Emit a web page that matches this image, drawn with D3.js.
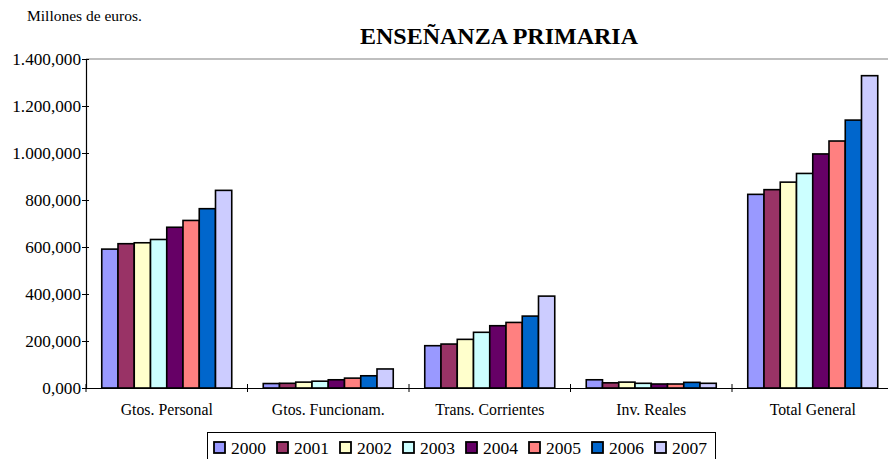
<!DOCTYPE html>
<html><head><meta charset="utf-8">
<script src="https://cdn.jsdelivr.net/npm/d3@7/dist/d3.min.js"></script>
<style>body{margin:0;background:#fff;overflow:hidden;}svg text{font-family:"Liberation Serif","Times New Roman",serif !important;}</style>
</head><body>
<svg id="c" width="888" height="459"></svg>
<script>
const categories = ["Gtos. Personal","Gtos. Funcionam.","Trans. Corrientes","Inv. Reales","Total General"];
const years = ["2000","2001","2002","2003","2004","2005","2006","2007"];
const colors = ["#9999FF","#993366","#FFFFCC","#CCFFFF","#660066","#FF8080","#0066CC","#CCCCFF"];
const v2000 = [591000, 19000, 180000, 35000, 824000];
const v2001 = [614000, 20000, 187000, 22000, 844000];
const v2002 = [618000, 25000, 207000, 25000, 876000];
const v2003 = [632000, 29000, 237000, 20000, 913000];
const v2004 = [684000, 35000, 265000, 17000, 996000];
const v2005 = [713000, 42000, 279000, 17000, 1051000];
const v2006 = [763000, 52000, 306000, 24000, 1140000];
const v2007 = [841000, 81000, 391000, 20000, 1329000];
const series = [v2000,v2001,v2002,v2003,v2004,v2005,v2006,v2007];
const yTicks = [0,200000,400000,600000,800000,1000000,1200000,1400000];
const yTickLabels = ["0,000","200,000","400,000","600,000","800,000","1.000,000","1.200,000","1.400,000"];

const svg = d3.select("#c");
const L = 86, R = 893.5, T = 59, B = 388;
const x0 = d3.scaleBand().domain(categories).range([L, R]).paddingInner(0).paddingOuter(0);
const gapRatio = 31.5/161.5;
const x1 = d3.scaleBand().domain(years).range([0, x0.bandwidth()*(1-gapRatio)]);
const y = d3.scaleLinear().domain([0,1400000]).range([B, T]);

svg.append("text").attr("x",27).attr("y",21).attr("font-size",15.5).attr("fill","#000").text("Millones de euros.");
svg.append("text").attr("x",499).attr("y",44).attr("text-anchor","middle").attr("font-size",24).attr("font-weight","bold").text("ENSEÑANZA PRIMARIA");

// top border line
svg.append("line").attr("x1",L).attr("x2",888).attr("y1",y(1400000)).attr("y2",y(1400000)).attr("stroke","#808080").attr("stroke-width",1.2);

// bars
const g = svg.append("g");
categories.forEach((c,ci)=>{
  const off = x0(c) + x0.bandwidth()*gapRatio/2;
  series.forEach((s,si)=>{
    g.append("rect")
      .attr("x", off + x1(years[si]))
      .attr("y", y(s[ci]))
      .attr("width", x1.bandwidth())
      .attr("height", B - y(s[ci]))
      .attr("fill", colors[si]).attr("stroke","#000").attr("stroke-width",1.6);
  });
});

// y axis
const ya = svg.append("g").attr("transform",`translate(${L},0)`)
  .call(d3.axisLeft(y).tickValues(yTicks).tickFormat((d,i)=>yTickLabels[i]).tickSize(5).tickSizeOuter(0));
ya.select(".domain").attr("stroke","#000").attr("stroke-width",1.2);
ya.selectAll(".tick line").attr("stroke","#000").attr("x2",3).attr("x1",-4);
ya.selectAll(".tick text").attr("x",-5).attr("font-size",17.2).attr("fill","#000");

// x axis
const xa = svg.append("g").attr("transform",`translate(0,${B})`)
  .call(d3.axisBottom(x0).tickSize(0).tickSizeOuter(0));
xa.select(".domain").attr("stroke","#000").attr("stroke-width",1.2);
xa.selectAll(".tick text").attr("y",16).attr("font-size",15.8).attr("fill","#000");
categories.forEach((c,i)=>{
  const xx = x0(c);
  xa.append("line").attr("x1",xx).attr("x2",xx).attr("y1",-4).attr("y2",4).attr("stroke","#000");
});

// legend
const lg = svg.append("g");
lg.append("rect").attr("x",207.5).attr("y",432.5).attr("width",508).attr("height",30).attr("fill","#fff").attr("stroke","#000").attr("stroke-width",1);
years.forEach((yr,i)=>{
  const lx = 214 + i*63;
  lg.append("rect").attr("x",lx).attr("y",442).attr("width",11).attr("height",11).attr("fill",colors[i]).attr("stroke","#000").attr("stroke-width",1.8);
  lg.append("text").attr("x",lx+17).attr("y",453.5).attr("font-size",17.5).attr("fill","#000").text(yr);
});
</script>
</body></html>
